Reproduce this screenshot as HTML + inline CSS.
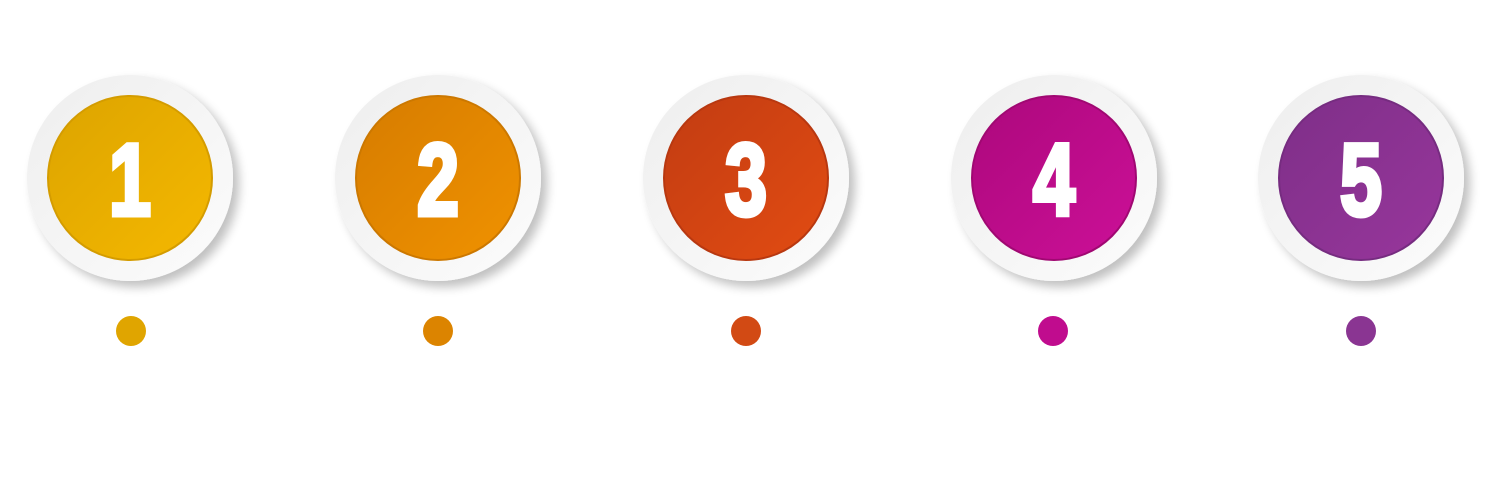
<!DOCTYPE html>
<html><head><meta charset="utf-8"><style>
html,body{margin:0;padding:0;background:#fff;}
svg{display:block}
text{font-family:"Liberation Sans",sans-serif;font-weight:bold;fill:#fff;stroke:#fff;stroke-width:5;stroke-linejoin:miter;}
</style></head><body>
<svg width="1500" height="500" viewBox="0 0 1500 500" xmlns="http://www.w3.org/2000/svg">
<defs>
<filter id="sh" x="-30%" y="-30%" width="160%" height="160%"><feGaussianBlur in="SourceAlpha" stdDeviation="5"/><feOffset dx="6" dy="6"/><feComponentTransfer><feFuncA type="linear" slope="0.25"/></feComponentTransfer><feMerge><feMergeNode/><feMergeNode in="SourceGraphic"/></feMerge></filter>
<linearGradient id="w" x1="0" y1="0" x2="1" y2="1"><stop offset="0" stop-color="#eeeeee"/><stop offset="1" stop-color="#fcfcfc"/></linearGradient>
<linearGradient id="g1" x1="0" y1="0" x2="1" y2="1"><stop offset="0" stop-color="#dca400"/><stop offset="1" stop-color="#f5b800"/></linearGradient>
<linearGradient id="g2" x1="0" y1="0" x2="1" y2="1"><stop offset="0" stop-color="#d67c00"/><stop offset="1" stop-color="#f09200"/></linearGradient>
<linearGradient id="g3" x1="0" y1="0" x2="1" y2="1"><stop offset="0" stop-color="#c23c12"/><stop offset="1" stop-color="#e24c12"/></linearGradient>
<linearGradient id="g4" x1="0" y1="0" x2="1" y2="1"><stop offset="0" stop-color="#ac087c"/><stop offset="1" stop-color="#cc1098"/></linearGradient>
<linearGradient id="g5" x1="0" y1="0" x2="1" y2="1"><stop offset="0" stop-color="#7e2f88"/><stop offset="1" stop-color="#98369c"/></linearGradient>
<g id="base"><circle r="103" fill="url(#w)" filter="url(#sh)"/></g>
</defs>
<g transform="translate(130,178)"><use href="#base"/><circle r="82" fill="url(#g1)" stroke="#d49c00" stroke-width="2"/><text x="0" y="37" text-anchor="middle" font-size="102" transform="scale(0.74,1)">1</text></g>
<g transform="translate(438,178)"><use href="#base"/><circle r="82" fill="url(#g2)" stroke="#cc7800" stroke-width="2"/><text x="0" y="37" text-anchor="middle" font-size="102" transform="scale(0.74,1)">2</text></g>
<g transform="translate(746,178)"><use href="#base"/><circle r="82" fill="url(#g3)" stroke="#b83810" stroke-width="2"/><text x="0" y="37" text-anchor="middle" font-size="102" transform="scale(0.74,1)">3</text></g>
<g transform="translate(1054,178)"><use href="#base"/><circle r="82" fill="url(#g4)" stroke="#a00872" stroke-width="2"/><text x="0" y="37" text-anchor="middle" font-size="102" transform="scale(0.74,1)">4</text></g>
<g transform="translate(1361,178)"><use href="#base"/><circle r="82" fill="url(#g5)" stroke="#762c80" stroke-width="2"/><text x="0" y="37" text-anchor="middle" font-size="102" transform="scale(0.74,1)">5</text></g>
<circle cx="131" cy="331" r="15" fill="#e0a500"/>
<circle cx="438" cy="331" r="15" fill="#dc8400"/>
<circle cx="746" cy="331" r="15" fill="#d24a14"/>
<circle cx="1053" cy="331" r="15" fill="#c00c8e"/>
<circle cx="1361" cy="331" r="15" fill="#8a3592"/>
</svg>
</body></html>
